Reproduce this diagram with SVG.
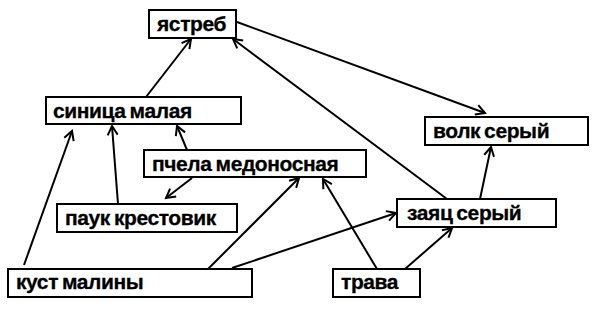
<svg xmlns="http://www.w3.org/2000/svg" width="598" height="312" viewBox="0 0 598 312">
<style>
.box{fill:#fff;stroke:#000;stroke-width:2}
.lbl{font-family:"Liberation Sans",Arial,sans-serif;font-weight:bold;font-size:21px;letter-spacing:-0.4px;word-spacing:-1.5px;fill:#000;stroke:#000;stroke-width:0.3}
.edge{stroke:#000;stroke-width:2;fill:none;marker-end:url(#arr)}
</style>
<defs>
<marker id="arr" markerUnits="userSpaceOnUse" markerWidth="14" markerHeight="14" viewBox="-10 -7 12 14" refX="0" refY="0" orient="auto">
<path d="M-9,-5 L0,0 L-9,5" fill="none" stroke="#000" stroke-width="2"/>
</marker>
</defs>
<rect width="598" height="312" fill="#fff"/>
<g id="connectors">
<line class="edge" x1="146" y1="97" x2="191" y2="39"/>
<line class="edge" x1="237" y1="22" x2="485" y2="113"/>
<line class="edge" x1="447" y1="199" x2="233" y2="39"/>
<line class="edge" x1="480" y1="199" x2="491" y2="147"/>
<line class="edge" x1="405" y1="269" x2="452" y2="228"/>
<line class="edge" x1="377" y1="269" x2="323" y2="179"/>
<line class="edge" x1="232" y1="268" x2="396" y2="213"/>
<line class="edge" x1="208" y1="269" x2="299" y2="178"/>
<line class="edge" x1="24" y1="265" x2="72" y2="131"/>
<line class="edge" x1="118" y1="204" x2="112" y2="126"/>
<line class="edge" x1="187" y1="150" x2="177" y2="126"/>
<line class="edge" x1="192" y1="178" x2="166" y2="198"/>
</g>
<g id="yastreb"><rect class="box" x="149" y="10" width="87" height="28"/><text class="lbl" x="157" y="31">ястреб</text></g>
<g id="sinica"><rect class="box" x="46" y="97" width="195" height="27"/><text class="lbl" x="53" y="118">синица малая</text></g>
<g id="pchela"><rect class="box" x="144" y="150" width="222" height="27"/><text class="lbl" x="152" y="171">пчела медоносная</text></g>
<g id="pauk"><rect class="box" x="57" y="204" width="180" height="28"/><text class="lbl" x="65" y="225">паук крестовик</text></g>
<g id="kust"><rect class="box" x="8" y="269" width="244" height="28"/><text class="lbl" x="16" y="289">куст малины</text></g>
<g id="trava"><rect class="box" x="333" y="269" width="87" height="28"/><text class="lbl" x="341" y="289">трава</text></g>
<g id="zayac"><rect class="box" x="397" y="199" width="159" height="28"/><text class="lbl" x="407" y="220">заяц серый</text></g>
<g id="volk"><rect class="box" x="425" y="117" width="163" height="28"/><text class="lbl" x="433" y="138">волк серый</text></g>
</svg>
